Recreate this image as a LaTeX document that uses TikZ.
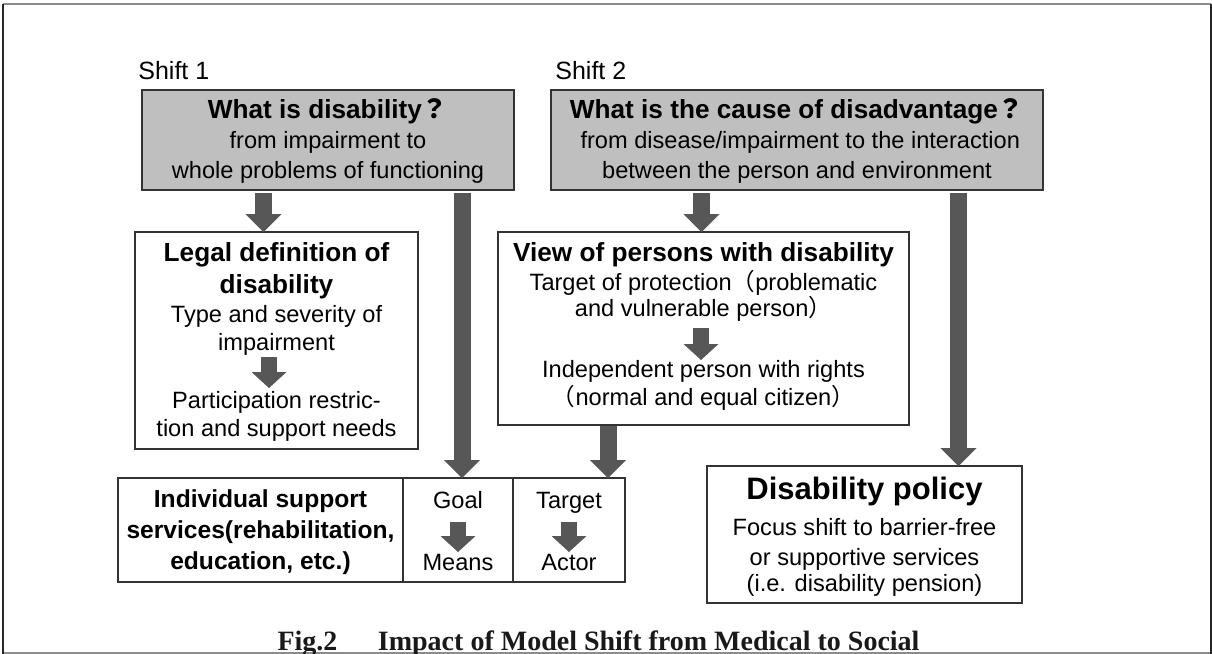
\documentclass[tikz,border=0pt]{standalone}
\usepackage{fontspec}
\setmainfont{Liberation Sans}
\newfontfamily\capfont{Liberation Serif}
\newfontfamily\cjk{Noto Sans CJK JP}
\usetikzlibrary{positioning, arrows.meta, calc}
\definecolor{cQuest}{HTML}{BFBFBF}
\definecolor{cArrow}{HTML}{575757}
\definecolor{cFrame}{HTML}{8C8C8C}
\definecolor{cLine}{HTML}{333333}
\newcommand{\fq}{{\cjk ？}}
\newcommand{\lp}{{\cjk （}}
\newcommand{\rp}{{\cjk ）}}
\newcommand{\hd}[1]{{\fontsize{13.1}{14}\selectfont\bfseries #1}}
\tikzset{
  box/.style      ={draw=cLine, line width=0.8pt, inner sep=0pt, outer sep=0pt},
  question/.style ={box, fill=cQuest, minimum height=50pt},
  plain/.style    ={box, fill=white},
  txt/.style      ={align=center, inner sep=0pt,
                    font=\fontsize{11.8}{14}\selectfont},
  shiftlabel/.style={inner sep=0pt, anchor=west,
                    font=\fontsize{12.5}{15}\selectfont},
  bigarrow/.style ={draw=cArrow, line width=8.5pt,
                    -{Triangle[width=18pt, length=9pt, line width=0pt]}},
  smallarrow/.style={draw=cArrow, line width=8pt,
                    -{Triangle[width=17.5pt, length=8pt, line width=0pt]}},
}

\begin{document}
\begin{tikzpicture}[x=0.5pt, y=-0.5pt]
  \useasboundingbox (0,0) rectangle (1212,654);

  % frame
  \draw[cFrame, line width=0.8pt] (3,4) -- (1211,4);
  \draw[cFrame, line width=0.8pt] (3,653) -- (1211,653);
  \draw[black!85, line width=1.2pt] (3,3.5) -- (3,653.5);
  \draw[black!85, line width=1.2pt] (1210.8,3.5) -- (1210.8,653.5);

  % ============================================================
  % SHIFT QUESTIONS (top)
  % ============================================================
  \node[shiftlabel] (shiftA) at (138,71) {Shift 1};
  \node[shiftlabel] (shiftB) at (555,71) {Shift 2};

  \node[question, minimum width=186pt] (whatA) at (328,140) {};
  \node[question, minimum width=246pt, right=18.5pt of whatA] (whatB) {};

  \node[txt] (whatAtxt) at (328,141) {%
    \hd{What is disability\fq}\\[1pt]
    from impairment to\\[1pt]
    whole problems of functioning};
  \node[txt] (whatBtxt) at (797,141) {%
    \hd{What is the cause of disadvantage\fq}\\[1pt]
    ~from disease/impairment to the interaction\\[1pt]
    between the person and environment};

  % ============================================================
  % MIDDLE BOXES
  % ============================================================
  \node[plain, minimum width=141.5pt, minimum height=108.5pt] (legal) at (276.5,340.5) {};
  \node[txt] (legalTop) at (276.5,299) {%
    \hd{Legal definition of}\\[2pt]
    \hd{disability}\\[0.5pt]
    Type and severity of\\
    impairment};
  \node[txt] (legalBot) at (276.5,416) {%
    Participation restric-\\
    tion and support needs};

  \node[plain, minimum width=205.5pt, minimum height=96.5pt] (view) at (703.5,328.5) {};
  \node[txt] (viewTop) at (703.5,282) {%
    \hd{View of persons with disability}\\[0.5pt]
    Target of protection\lp problematic\\[-1pt]
    and vulnerable person\rp};
  \node[txt] (viewBot) at (703.5,385) {%
    Independent person with rights\\
    \lp normal and equal citizen\rp};

  % ============================================================
  % BOTTOM ROW
  % ============================================================
  \node[plain, minimum width=142.5pt, minimum height=52pt] (indiv) at (260.5,530) {};
  \node[plain, minimum width=55pt, minimum height=52pt, right=0pt of indiv] (goal) {};
  \node[plain, minimum width=56pt, minimum height=52pt, right=0pt of goal] (target) {};

  \node[txt, font=\fontsize{12.3}{15.5}\selectfont\bfseries] (indivTxt) at (260.5,532) {%
    Individual support\\
    services(rehabilitation,\\
    education, etc.)};
  \node[txt, anchor=base] (goalTxt)   at (goal.center |- 0,508)   {Goal};
  \node[txt, anchor=base] (meansTxt)  at (goal.center |- 0,570)   {Means};
  \node[txt, anchor=base] (targetTxt) at (target.center |- 0,508) {Target};
  \node[txt, anchor=base] (actorTxt)  at (target.center |- 0,570) {Actor};

  \node[plain, minimum width=157.5pt, minimum height=68.5pt] (policy) at (864.5,534.5) {};
  \node[txt, font=\fontsize{15.5}{18}\selectfont\bfseries] (policyHead) at (864.5,491) {Disability policy};
  \node[txt] (policyTxt) at (864.5,557) {%
    Focus shift to barrier-free\\[1pt]
    or supportive services\\[-1pt]
    (i.e. disability pension)};

  % caption
  \node[anchor=base, inner sep=0pt, text=black!90,
        font=\capfont\bfseries\fontsize{14}{16}\selectfont] (caption) at (598.5,650)
    {Fig.2\hspace{1.45em}Impact of Model Shift from Medical to Social};

  % ============================================================
  % ARROWS
  % ============================================================
  \coordinate (sA) at ($(legal.north |- whatA.south)+(-13,3)$);
  \draw[bigarrow] (sA) -- (sA |- legal.north);
  \coordinate (sB) at ($(view.north |- whatB.south)+(-2,3)$);
  \draw[bigarrow] (sB) -- (sB |- view.north);

  \coordinate (tA) at ($(goal.north |- whatA.south)+(4,3)$);
  \draw[bigarrow] (tA) -- (tA |- goal.north);
  \coordinate (tB) at ($(policy.north |- whatB.south)+(94,3)$);
  \draw[bigarrow] (tB) -- (tB |- policy.north);

  \coordinate (tC) at ($(target.north |- view.south)+(39,1)$);
  \draw[bigarrow] (tC) -- (tC |- target.north);

  % arrows inside boxes
  \draw[smallarrow] ($(legal.center)+(-7.5,16.5)$) -- ($(legal.center)+(-7.5,47.5)$);
  \draw[smallarrow] ($(view.center)+(-2.5,-0.5)$) -- ($(view.center)+(-2.5,31.5)$);
  \draw[smallarrow] ($(goal.center)+(0,-8)$) -- ($(goal.center)+(0,22)$);
  \draw[smallarrow] ($(target.center)+(0,-8)$) -- ($(target.center)+(0,22)$);

\end{tikzpicture}
\end{document}
